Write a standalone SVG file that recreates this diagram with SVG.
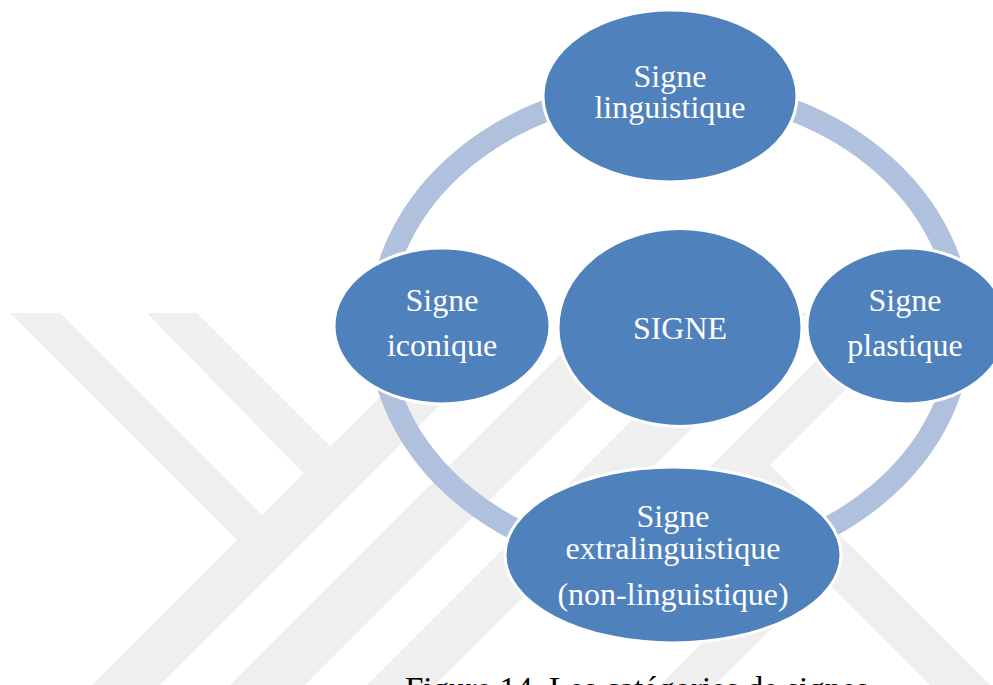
<svg xmlns="http://www.w3.org/2000/svg" width="993" height="685" viewBox="0 0 993 685">
<style>
.wm{fill:#efefef}
.ring{fill:none;stroke:#b0c1dd;stroke-width:22}
.node{fill:#4f81bd;stroke:#ffffff;stroke-width:3}
.lbl{font-family:"Liberation Serif","Times New Roman",serif;font-size:32px;fill:#ffffff;text-anchor:middle}
.cap{font-family:"Liberation Serif","Times New Roman",serif;font-size:33px;fill:#000000}
</style>
<rect x="0" y="0" width="993" height="685" fill="#ffffff"/>
<g id="watermark">
<polygon class="wm" points="10,313 60,313 265,518 240,543"/>
<polygon class="wm" points="147,313 197,313 335,451 308,478"/>
<polygon class="wm" points="464,313 532,313 145,700 77,700"/>
<polygon class="wm" points="602,313 677,313 290,700 215,700"/>
<polygon class="wm" points="739,313 807,313 420,700 352,700"/>
<polygon class="wm" points="864,313 922,313 770,465 711,466"/>
<polygon class="wm" points="711,466 770,465 1002,697 942,697"/>
<polygon class="wm" points="700,645 823,522 850,549 755,645 700,700 645,700"/>
</g>
<g id="connectors">
<ellipse class="ring" cx="670" cy="327" rx="291" ry="239"/>
</g>
<g id="node-linguistique">
<ellipse class="node" cx="670" cy="96" rx="127" ry="86"/>
<text class="lbl" x="670" y="87">Signe</text>
<text class="lbl" x="670" y="118">linguistique</text>
</g>
<g id="node-iconique">
<ellipse class="node" cx="442" cy="326" rx="108" ry="78"/>
<text class="lbl" x="442" y="311">Signe</text>
<text class="lbl" x="442" y="356">iconique</text>
</g>
<g id="node-signe">
<ellipse class="node" cx="680" cy="327.5" rx="122" ry="99"/>
<text class="lbl" x="680" y="339">SIGNE</text>
</g>
<g id="node-plastique">
<ellipse class="node" cx="907" cy="326" rx="100" ry="78"/>
<text class="lbl" x="905" y="311">Signe</text>
<text class="lbl" x="905" y="356">plastique</text>
</g>
<g id="node-extralinguistique">
<ellipse class="node" cx="673" cy="555" rx="168" ry="88"/>
<text class="lbl" x="673" y="527">Signe</text>
<text class="lbl" x="673" y="559">extralinguistique</text>
<text class="lbl" x="673" y="605">(non-linguistique)</text>
</g>
<text class="cap" x="405" y="700">Figure 14. Les catégories de signes</text>
</svg>
